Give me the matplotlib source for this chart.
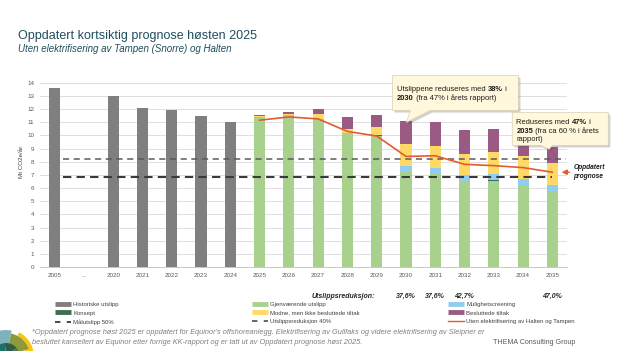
import matplotlib
matplotlib.use("Agg")
import matplotlib.pyplot as plt
import matplotlib.patheffects as pe
from matplotlib.lines import Line2D
from matplotlib.patches import Wedge, Polygon
import numpy as np

plt.rcParams['font.family'] = ['Liberation Sans', 'DejaVu Sans']

# ---- data ----
categories = ['2005', '...', '2020', '2021', '2022', '2023', '2024', '2025', '2026',
              '2027', '2028', '2029', '2030', '2031', '2032', '2033', '2034', '2035']
hist_years = ['2005', '2020', '2021', '2022', '2023', '2024']
hist_values = [13.6, 13.0, 12.05, 11.95, 11.5, 11.0]

prog_years = ['2025', '2026', '2027', '2028', '2029', '2030', '2031', '2032', '2033', '2034', '2035']
gjenvaerende = [11.4, 11.55, 11.25, 10.15, 9.95, 7.2, 7.05, 6.5, 6.55, 6.25, 5.75]
konsept = [0, 0, 0, 0, 0.05, 0.05, 0.05, 0.05, 0.05, 0, 0]
mulighet = [0, 0, 0, 0.05, 0.05, 0.45, 0.45, 0.45, 0.45, 0.45, 0.45]
modne = [0.1, 0.05, 0.4, 0.3, 0.55, 1.65, 1.65, 1.6, 1.7, 1.7, 1.7]
besluttede = [0.05, 0.15, 0.35, 0.9, 0.95, 1.75, 1.8, 1.8, 1.75, 1.6, 1.2]
uten_elektr = [11.15, 11.4, 11.25, 10.3, 9.95, 8.4, 8.45, 7.8, 7.7, 7.55, 7.2]

maal_50 = 6.8
red_40 = 8.2

red_years = ['2030', '2031', '2032', '2035']
red_labels = ['37,6%', '37,6%', '42,7%', '47,0%']

# (text, bold) segments per line
callout1_lines = [[('Utslippene reduseres med ', False), ('38%', True), (' i', False)],
                  [('2030', True), (' (fra 47% i årets rapport)', False)]]
callout2_lines = [[('Reduseres med ', False), ('47%', True), (' i', False)],
                  [('2035', True), (' (fra ca 60 % i årets', False)],
                  [('rapport)', False)]]

c_hist = '#7f7f7f'
c_green = '#a9d18e'
c_kons = '#3e6e52'
c_blue = '#8fcdf2'
c_yellow = '#ffd966'
c_purple = '#9b5a84'
c_red = '#e45a32'
c_title = '#1f4e5f'

W, H = 624, 351
fig = plt.figure(figsize=(W / 100, H / 100), dpi=100)


def fx(px):
    return px / W


def fy(py):
    return 1 - py / H


ax = fig.add_axes([fx(40), fy(267), fx(567) - fx(40), fy(82.7) - fy(267)])
xpos = {c: i for i, c in enumerate(categories)}
bw = 0.38

ax.bar([xpos[y] for y in hist_years], hist_values, width=bw, color=c_hist, zorder=2)

px = np.array([xpos[y] for y in prog_years])
bottom = np.zeros(len(prog_years))
for vals, col in [(gjenvaerende, c_green), (konsept, c_kons), (mulighet, c_blue),
                  (modne, c_yellow), (besluttede, c_purple)]:
    ax.bar(px, vals, bottom=bottom, width=bw, color=col, zorder=2)
    bottom += np.array(vals)

ax.hlines(red_40, 0.3, 17.45, colors='#5a5a5a', linestyles=(0, (4, 3)), lw=1.1, zorder=3)
ax.hlines(maal_50, 0.3, 17.0, colors='#3a3a3a', linestyles=(0, (4, 2.5)), lw=1.5, zorder=3)
ax.plot(px, uten_elektr, color=c_red, lw=1.2, zorder=4)

ax.set_xlim(-0.5, 17.5)
ax.set_ylim(0, 14)
ax.set_yticks(range(0, 15))
ax.set_xticks(range(len(categories)))
ax.set_xticklabels(categories)
ax.tick_params(axis='both', labelsize=4.5, colors='#595959', length=0, pad=4)
ax.grid(axis='y', color='#d9d9d9', lw=0.6, zorder=0)
for s in ['top', 'right', 'left']:
    ax.spines[s].set_visible(False)
ax.spines['bottom'].set_color('#bfbfbf')
ax.spines['bottom'].set_linewidth(0.6)

fig.text(fx(21.7), fy(162), 'Mt CO2e/år', rotation=90, fontsize=4.5, color='#404040',
         ha='center', va='center')

# reduction row
row_y = -(296 - 267) / (267 - 82.7)
fig.text(fx(375), fy(296), 'Utslippsreduksjon:', fontsize=5, fontweight='bold',
         style='italic', color='#262626', ha='right', va='center')
for y, lab in zip(red_years, red_labels):
    ax.text(xpos[y], row_y, lab, transform=ax.get_xaxis_transform(), fontsize=5,
            fontweight='bold', style='italic', color='#262626', ha='center', va='center')

# callouts (box + tail as one shape)
shadow = [pe.SimplePatchShadow(offset=(1.5, -1.5), alpha=0.25), pe.Normal()]


def rich_line(x, y, segs, fs=5.4):
    prev = None
    for txt, bold in segs:
        kw = dict(fontsize=fs, color='#1a1a1a', fontweight='bold' if bold else 'normal',
                  zorder=7, annotation_clip=False)
        if prev is None:
            prev = ax.annotate(txt, xy=(x, y), xycoords='data', ha='left', va='baseline', **kw)
        else:
            prev = ax.annotate(txt, xy=(1, 0), xycoords=prev, ha='left', va='bottom', **kw)


def callout(x0, x1, y0, y1, tb0, tb1, tip, lines, tx, ty0, dy):
    pts = [(x0, y1), (x1, y1), (x1, y0), (tb1, y0), tip, (tb0, y0), (x0, y0)]
    p = Polygon(pts, closed=True, fc='#fff8dc', ec='#d6d0b8', lw=0.5, zorder=6, clip_on=False)
    p.set_path_effects(shadow)
    ax.add_patch(p)
    for i, segs in enumerate(lines):
        rich_line(tx, ty0 - i * dy, segs)


callout(11.54, 15.84, 11.89, 14.55, 12.15, 12.83, (12.01, 10.98), callout1_lines, 11.7, 13.37, 0.68)
callout(15.63, 18.91, 9.24, 11.74, 16.59, 17.0, (16.89, 8.94), callout2_lines, 15.77, 10.83, 0.63)

ax.annotate('', xy=(17.22, 7.2), xytext=(17.68, 7.2), annotation_clip=False,
            arrowprops=dict(arrowstyle='-|>,head_length=0.3,head_width=0.15', color=c_red, lw=1.0))
ax.text(17.72, 7.2, 'Oppdatert\nprognose', fontsize=4.8, fontweight='bold', style='italic',
        color='#1a1a1a', ha='left', va='center', linespacing=1.4, clip_on=False)

# titles
fig.text(fx(18), fy(35.5), 'Oppdatert kortsiktig prognose høsten 2025', fontsize=9.0,
         color=c_title, ha='left', va='center')
fig.text(fx(18), fy(49.5), 'Uten elektrifisering av Tampen (Snorre) og Halten', fontsize=7.0,
         style='italic', color=c_title, ha='left', va='center')

# legends
def bar_h(c):
    return Line2D([], [], color=c, lw=3.5, solid_capstyle='butt')


def dash_h(c):
    return Line2D([], [], color=c, lw=1.3, dashes=(3, 3.5))


leg_cols = [
    ([bar_h(c_hist), bar_h(c_kons), dash_h('#3a3a3a')],
     ['Historiske utslipp', 'Konsept', 'Målutslipp 50%'], 55),
    ([bar_h(c_green), bar_h(c_yellow), dash_h('#5a5a5a')],
     ['Gjenværende utslipp', 'Modne, men ikke besluttede tiltak', 'Utslippsreduksjon 40%'], 252),
    ([bar_h(c_blue), bar_h(c_purple), Line2D([], [], color=c_red, lw=1.0)],
     ['Mulighetscreening', 'Besluttede tiltak', 'Uten elektrifisering av Halten og Tampen'], 448),
]
for hs, ls, x0 in leg_cols:
    lg = fig.legend(hs, ls, loc='upper left', bbox_to_anchor=(fx(x0), fy(301.5)), frameon=False,
                    fontsize=4.3, handlelength=2.7, handletextpad=0.35, labelspacing=0.62,
                    borderpad=0, borderaxespad=0)
    for t in lg.get_texts():
        t.set_color('#404040')

# footnote
fig.text(fx(32), fy(333), "*Oppdatert prognose høst 2025 er oppdatert for Equinor's offshoreanlegg. "
         "Elektrifisering av Gullfaks og videre elektrifisering av Sleipner er",
         fontsize=5.3, style='italic', color='#808080', ha='left', va='center')
fig.text(fx(32), fy(342), 'besluttet kansellert av Equinor etter forrige KK-rapport og er tatt ut av '
         'Oppdatert prognose høst 2025.',
         fontsize=5.3, style='italic', color='#808080', ha='left', va='center')
fig.text(fx(493), fy(342), 'THEMA Consulting Group', fontsize=5.1, color='#595959',
         ha='left', va='center')

# logo
lax = fig.add_axes([0, 0, fx(40), 40 / H])
lax.set_xlim(0, 40)
lax.set_ylim(0, 40)
lax.axis('off')
cx, cy = 6, -6
for r1, r0, t1, t2, col in [(28, 20, 0, 62, '#f5c518'), (24, 13, 20, 78, '#8c9a3c'),
                            (27, 13, 78, 170, '#7fb2bd'), (14, 0, 40, 95, '#2f5d48'),
                            (14, 0, 95, 180, '#1d6f6c'), (14, 0, 0, 40, '#4d7a3a')]:
    lax.add_patch(Wedge((cx, cy), r1, t1, t2, width=r1 - r0, color=col, lw=0))

fig.savefig('out.png', dpi=100)
